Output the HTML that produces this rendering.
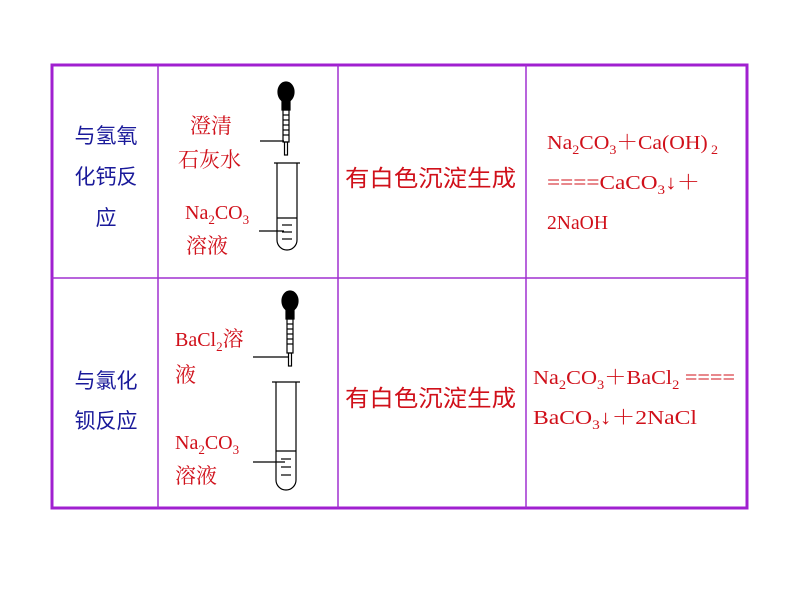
<!DOCTYPE html>
<html><head><meta charset="utf-8"><style>
html,body{margin:0;padding:0;background:#fff;}
svg{display:block}
.b{font-family:"Liberation Sans","Noto Sans CJK SC",sans-serif;font-size:21px;fill:#1a1a9a}
.r{font-family:"Liberation Serif","Noto Serif CJK SC",serif;font-size:20px;fill:#d0101a}
.s{font-size:13px}
</style></head><body>
<svg width="794" height="596" viewBox="0 0 794 596" xmlns="http://www.w3.org/2000/svg">
<rect x="52" y="65" width="695" height="443" fill="none" stroke="#a020d0" stroke-width="3"/>
<g stroke="#a030d0" stroke-width="1.5">
<line x1="52" y1="278" x2="747" y2="278"/>
<line x1="158" y1="65" x2="158" y2="508"/>
<line x1="338" y1="65" x2="338" y2="508"/>
<line x1="526" y1="65" x2="526" y2="508"/>
</g>
<text class="b" x="106" y="143" text-anchor="middle">与氢氧</text>
<text class="b" x="106" y="184" text-anchor="middle">化钙反</text>
<text class="b" x="106" y="225" text-anchor="middle">应</text>
<text class="b" x="106" y="388" text-anchor="middle">与氯化</text>
<text class="b" x="106" y="428" text-anchor="middle">钡反应</text>
<text class="r" x="345" y="186" textLength="171" lengthAdjust="spacingAndGlyphs" style="font-family:'Noto Sans CJK SC',sans-serif;font-size:23px">有白色沉淀生成</text>
<text class="r" x="345" y="406" textLength="171" lengthAdjust="spacingAndGlyphs" style="font-family:'Noto Sans CJK SC',sans-serif;font-size:23px">有白色沉淀生成</text>
<text class="r" x="190" y="133" style="font-size:21px">澄清</text>
<text class="r" x="178" y="167" style="font-size:21px">石灰水</text>
<text class="r" x="185" y="219">Na<tspan class="s" dy="5">2</tspan><tspan dy="-5">CO</tspan><tspan class="s" dy="5">3</tspan></text>
<text class="r" x="186" y="253" style="font-size:21px">溶液</text>
<text class="r" x="175" y="346">BaCl<tspan class="s" dy="5">2</tspan><tspan dy="-5" style="font-size:21px">溶</tspan></text>
<text class="r" x="175" y="382" style="font-size:21px">液</text>
<text class="r" x="175" y="449">Na<tspan class="s" dy="5">2</tspan><tspan dy="-5">CO</tspan><tspan class="s" dy="5">3</tspan></text>
<text class="r" x="175" y="483" style="font-size:21px">溶液</text>
<g stroke="#000" fill="none" stroke-width="1.2">
<ellipse cx="286" cy="92" rx="8" ry="10" fill="#000"/>
<rect x="282" y="100" width="8" height="10" fill="#000"/>
<rect x="283" y="110" width="6" height="32"/>
<line x1="283" y1="115" x2="289" y2="115"/><line x1="283" y1="120" x2="289" y2="120"/><line x1="283" y1="125" x2="289" y2="125"/><line x1="283" y1="130" x2="289" y2="130"/><line x1="283" y1="135" x2="289" y2="135"/>
<rect x="284.5" y="142" width="3" height="13"/>
<line x1="260" y1="141" x2="284" y2="141"/>
<path d="M274 163 H300 M277 163 V240 A10 10 0 0 0 297 240 V163"/>
<line x1="277" y1="218" x2="297" y2="218"/>
<line x1="282" y1="225" x2="292" y2="225"/><line x1="282" y1="232" x2="292" y2="232"/><line x1="282" y1="239" x2="292" y2="239"/>
<line x1="259" y1="231" x2="284" y2="231"/>
</g>
<g stroke="#000" fill="none" stroke-width="1.2">
<ellipse cx="290" cy="301" rx="8" ry="10" fill="#000"/>
<rect x="286" y="309" width="8" height="10" fill="#000"/>
<rect x="287" y="319" width="6" height="34"/>
<line x1="287" y1="324" x2="293" y2="324"/><line x1="287" y1="329" x2="293" y2="329"/><line x1="287" y1="334" x2="293" y2="334"/><line x1="287" y1="339" x2="293" y2="339"/><line x1="287" y1="344" x2="293" y2="344"/>
<rect x="288.5" y="353" width="3" height="13"/>
<line x1="253" y1="357" x2="288" y2="357"/>
<path d="M272 382 H300 M276 382 V480 A10 10 0 0 0 296 480 V382"/>
<line x1="276" y1="451" x2="296" y2="451"/>
<line x1="281" y1="459" x2="291" y2="459"/><line x1="281" y1="467" x2="291" y2="467"/><line x1="281" y1="475" x2="291" y2="475"/>
<line x1="253" y1="462" x2="285" y2="462"/>
</g>
<text class="r" x="547" y="149" textLength="171" lengthAdjust="spacingAndGlyphs">Na<tspan class="s" dy="5">2</tspan><tspan dy="-5">CO</tspan><tspan class="s" dy="5">3</tspan><tspan dy="-5">＋Ca(OH)</tspan><tspan class="s" dx="3" dy="5">2</tspan></text>
<text class="r" x="547" y="189" textLength="153" lengthAdjust="spacingAndGlyphs">====CaCO<tspan class="s" dy="5">3</tspan><tspan dy="-5">↓＋</tspan></text>
<text class="r" x="547" y="229" textLength="61" lengthAdjust="spacingAndGlyphs">2NaOH</text>
<text class="r" x="533" y="384" textLength="202" lengthAdjust="spacingAndGlyphs">Na<tspan class="s" dy="5">2</tspan><tspan dy="-5">CO</tspan><tspan class="s" dy="5">3</tspan><tspan dy="-5">＋BaCl</tspan><tspan class="s" dy="5">2</tspan><tspan dy="-5"> ====</tspan></text>
<text class="r" x="533" y="424" textLength="164" lengthAdjust="spacingAndGlyphs">BaCO<tspan class="s" dy="5">3</tspan><tspan dy="-5">↓＋2NaCl</tspan></text>
</svg>
</body></html>
